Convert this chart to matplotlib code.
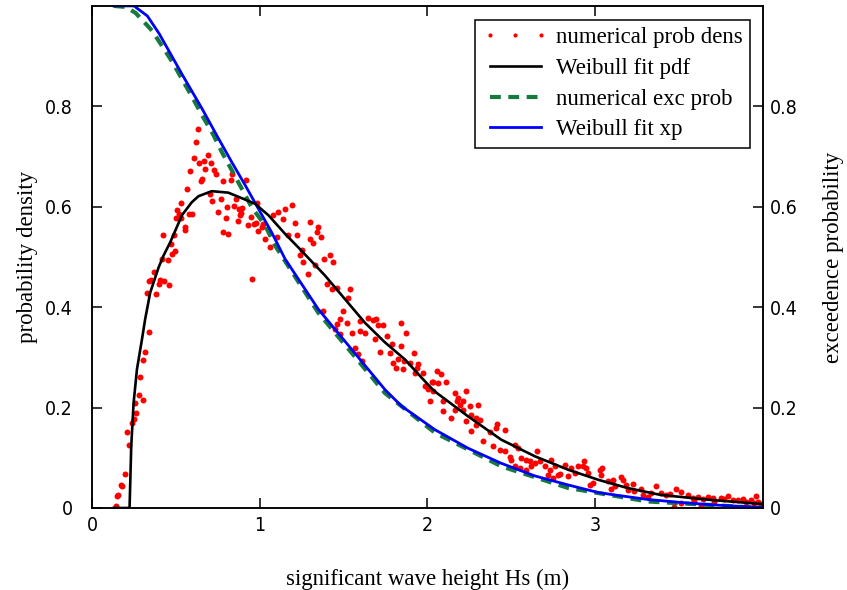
"""
Weibull fit of significant wave height: probability density and exceedance probability.
"""

import matplotlib
matplotlib.use("Agg")
import matplotlib.pyplot as plt
from matplotlib.lines import Line2D

# ─── Data ─────────────────────────────────────────────────────────────────────
# numerical probability density (red dots)
dens_x = [0.139, 0.143, 0.149, 0.155, 0.175, 0.18, 0.195, 0.218, 0.208, 0.238, 0.248, 0.264, 0.254,
          0.307, 0.278, 0.288, 0.302, 0.314, 0.337, 0.327, 0.381, 0.341, 0.353, 0.367, 0.397, 0.407,
          0.432, 0.46, 0.417, 0.452, 0.476, 0.496, 0.472,
          0.631, 0.621, 0.611, 0.69, 0.665, 0.639, 0.71, 0.675, 0.585, 0.726, 0.74, 0.655, 0.65, 0.78,
          0.827, 0.833, 0.917, 0.565, 0.704, 0.714, 0.77, 0.859, 0.53, 0.506, 0.516, 0.5, 0.581, 0.595,
          0.532, 0.754, 0.804, 0.849, 0.877, 0.897, 0.889, 0.883, 0.798, 0.948, 0.873, 0.933, 0.978,
          0.992, 0.556, 0.552, 0.784, 0.813, 0.486, 0.423, 1.022, 1.012,
          0.982, 0.968, 1.032, 1.061, 1.101, 1.081, 1.111, 1.151, 1.19, 1.141, 1.21, 1.30, 1.349, 1.34,
          1.365, 1.171, 1.22, 1.30, 1.32, 1.25, 1.24, 1.26, 1.33, 1.385, 1.419, 1.438, 1.29, 1.399,
          1.429, 1.458, 1.538, 1.528, 0.952, 1.498, 1.478, 1.458, 1.518, 1.448, 1.375, 1.478, 1.548,
          1.597, 1.627, 1.597, 1.647, 1.677, 1.696, 1.706, 1.736, 1.756, 1.686, 1.786, 1.716, 1.776,
          1.845, 1.841, 1.869, 1.567, 1.583, 1.607, 1.921, 1.796, 1.815, 1.825, 1.855, 1.895, 1.945,
          1.935, 1.974, 2.024, 1.984, 1.863, 1.923,
          2.054, 2.08, 2.034, 2.063, 2.113, 2.004, 2.034, 2.014, 2.093, 2.163, 2.232, 2.183, 2.173,
          2.212, 2.193, 2.252, 2.302, 2.093, 2.163, 2.212, 2.262, 2.143, 2.232, 2.292, 2.312, 2.292,
          2.262, 2.371, 2.417, 2.411, 2.46, 2.331, 2.391, 2.431, 2.46, 2.52, 2.54, 2.49, 2.5, 2.56,
          2.59, 2.609, 2.655, 2.639, 2.669, 2.52, 2.55, 2.589, 2.619, 2.698, 2.728, 2.738, 2.758,
          2.778, 2.79, 2.817, 2.857, 2.837, 2.877, 2.897, 2.936, 2.946, 2.966, 2.986, 3.026, 2.718,
          2.748,
          2.927, 2.956, 3.04, 3.036, 3.075, 3.105, 3.115, 3.095, 3.155, 3.165, 3.185, 3.224, 3.194,
          3.234, 3.274, 3.284, 3.313, 3.363, 3.393, 3.443, 3.482, 3.512, 3.552, 3.472, 3.512, 3.611,
          3.671, 3.75, 3.79, 3.85, 3.929, 3.958, 3.948, 3.71, 3.63, 3.59, 3.99,
          3.33, 3.42, 3.58, 3.64, 3.70, 3.77, 3.82, 3.88, 3.90, 3.97]
dens_y = [0.0, 0.004, 0.024, 0.025, 0.045, 0.043, 0.067, 0.126, 0.151, 0.17, 0.178, 0.189, 0.21,
          0.216, 0.225, 0.261, 0.294, 0.311, 0.351, 0.429, 0.426, 0.453, 0.455, 0.471, 0.447, 0.455,
          0.453, 0.444, 0.496, 0.494, 0.506, 0.511, 0.526,
          0.755, 0.728, 0.697, 0.704, 0.691, 0.688, 0.688, 0.676, 0.671, 0.674, 0.665, 0.655, 0.651,
          0.651, 0.653, 0.665, 0.653, 0.635, 0.626, 0.611, 0.615, 0.616, 0.607, 0.593, 0.586, 0.577,
          0.586, 0.586, 0.577, 0.589, 0.599, 0.601, 0.595, 0.597, 0.588, 0.584, 0.578, 0.579, 0.571,
          0.564, 0.567, 0.551, 0.559, 0.553, 0.549, 0.546, 0.543, 0.544, 0.566, 0.559,
          0.608, 0.566, 0.536, 0.519, 0.539, 0.583, 0.589, 0.596, 0.603, 0.576, 0.568, 0.569, 0.559,
          0.549, 0.539, 0.543, 0.543, 0.536, 0.528, 0.513, 0.503, 0.489, 0.483, 0.495, 0.503, 0.489,
          0.466, 0.446, 0.436, 0.439, 0.436, 0.419, 0.456, 0.393, 0.376, 0.366, 0.368, 0.356, 0.393,
          0.346, 0.348, 0.353, 0.349, 0.373, 0.379, 0.375, 0.376, 0.364, 0.364, 0.343, 0.336, 0.326,
          0.311, 0.309, 0.323, 0.369, 0.348, 0.319, 0.306, 0.293, 0.309, 0.289, 0.279, 0.296, 0.276,
          0.289, 0.286, 0.279, 0.269, 0.251, 0.243, 0.292, 0.269,
          0.273, 0.266, 0.251, 0.249, 0.251, 0.237, 0.233, 0.213, 0.213, 0.229, 0.233, 0.219, 0.213,
          0.213, 0.206, 0.203, 0.205, 0.193, 0.196, 0.196, 0.186, 0.179, 0.173, 0.179, 0.176, 0.166,
          0.153, 0.151, 0.168, 0.159, 0.156, 0.133, 0.123, 0.116, 0.113, 0.126, 0.119, 0.101, 0.095,
          0.099, 0.096, 0.093, 0.113, 0.089, 0.093, 0.083, 0.079, 0.076, 0.083, 0.083, 0.076, 0.096,
          0.083, 0.066, 0.068, 0.086, 0.079, 0.063, 0.069, 0.083, 0.093, 0.079, 0.046, 0.049, 0.076,
          0.066, 0.059,
          0.083, 0.069, 0.079, 0.066, 0.053, 0.056, 0.043, 0.037, 0.061, 0.055, 0.046, 0.048, 0.036,
          0.033, 0.037, 0.026, 0.021, 0.043, 0.029, 0.028, 0.037, 0.031, 0.026, 0.001, 0.009, 0.021,
          0.021, 0.019, 0.023, 0.016, 0.015, 0.023, 0.009, 0.011, 0.003, 0.013, 0.008,
          0.030, 0.025, 0.020, 0.018, 0.020, 0.017, 0.015, 0.018, 0.012, 0.012]

# Weibull fit pdf (black)
pdf_x = [0.13, 0.224, 0.234, 0.248, 0.268, 0.298, 0.317, 0.347, 0.397, 0.427, 0.466, 0.50, 0.536,
         0.595, 0.635, 0.714, 0.813, 0.893, 0.972, 1.052, 1.151, 1.23, 1.389, 1.508, 1.627, 1.746,
         1.865, 1.994, 2.04, 2.24, 2.44, 2.64, 2.84, 3.02, 3.19, 3.39, 3.69, 3.99]
pdf_y = [0.0, 0.0, 0.123, 0.209, 0.276, 0.336, 0.376, 0.429, 0.479, 0.503, 0.529, 0.555, 0.583,
         0.609, 0.621, 0.631, 0.628, 0.617, 0.606, 0.583, 0.546, 0.519, 0.463, 0.416, 0.369, 0.330,
         0.296, 0.249, 0.233, 0.183, 0.136, 0.103, 0.076, 0.056, 0.04, 0.026, 0.016, 0.008]

# numerical exceedance probability (green dashed)
exc_x = [0.13, 0.20, 0.26, 0.36, 0.476, 0.595, 0.655, 0.724, 0.774, 0.833, 0.893, 0.952, 1.032,
         1.091, 1.349, 1.548, 1.746, 2.044, 2.44, 2.837, 3.313, 4.0]
exc_y = [1.0, 0.998, 0.986, 0.95, 0.89, 0.82, 0.783, 0.743, 0.709, 0.673, 0.636, 0.599, 0.563,
         0.523, 0.389, 0.309, 0.229, 0.150, 0.083, 0.040, 0.013, 0.0]

# Weibull fit exceedance probability (blue)
xp_x = [0.13, 0.25, 0.33, 0.40, 0.54, 0.655, 0.754, 0.833, 0.913, 0.992, 1.071, 1.151, 1.349,
        1.548, 1.746, 1.845, 2.044, 2.242, 2.44, 2.639, 2.837, 3.016, 3.115, 3.313, 3.512, 3.71, 4.0]
xp_y = [1.0, 1.0, 0.98, 0.945, 0.862, 0.796, 0.736, 0.689, 0.643, 0.596, 0.549, 0.496, 0.396,
        0.316, 0.236, 0.203, 0.156, 0.119, 0.089, 0.064, 0.046, 0.031, 0.026, 0.017, 0.011, 0.006,
        0.001]

yticks = [0, 0.2, 0.4, 0.6, 0.8]
ytick_labels = ["0", "0.2", "0.4", "0.6", "0.8"]
xticks = [0, 1, 2, 3]

SERIF = ["Liberation Serif", "DejaVu Serif"]
GREEN = "#157a3c"
TICK_FONT = dict(family="DejaVu Sans", stretch="condensed", size=14)

# ─── Figure ───────────────────────────────────────────────────────────────────
fig = plt.figure(figsize=(8.47, 5.90), dpi=100)
ax = fig.add_axes([0.1086, 0.139, 0.7922, 0.851])
ax2 = ax.twinx()

ax.plot(dens_x, dens_y, "o", color="red", markersize=4.3, markeredgewidth=0, zorder=2)
ax.plot(exc_x, exc_y, color=GREEN, linewidth=3.0, dashes=(2.6, 1.8), zorder=3)
ax.plot(xp_x, xp_y, color="blue", linewidth=2.0, zorder=4)
ax.plot(pdf_x, pdf_y, color="black", linewidth=1.9, zorder=5)

for a in (ax, ax2):
    a.set_xlim(0, 4)
    a.set_ylim(0, 1)
    a.set_yticks(yticks)
    a.set_yticklabels(ytick_labels, fontdict=TICK_FONT)
    for s in a.spines.values():
        s.set_linewidth(1.1)

ax.set_xticks(xticks)
ax.set_xticklabels([str(t) for t in xticks], fontdict=TICK_FONT)
ax.tick_params(axis="both", direction="in", length=7, width=1.1, top=True)
ax.tick_params(axis="y", pad=14)
ax.tick_params(axis="x", pad=6)
ax2.tick_params(axis="y", direction="in", length=7, width=1.1, pad=5)

ax.set_xlabel("significant wave height Hs (m)", family=SERIF, fontsize=16.5)
ax.set_ylabel("probability density", family=SERIF, fontsize=16.5)
ax2.set_ylabel("exceedence probability", family=SERIF, fontsize=16.5)
ax.xaxis.set_label_coords(0.5, -0.121)
ax.yaxis.set_label_coords(-0.080, 0.5)
ax2.yaxis.set_label_coords(1.089, 0.5)

# ─── Legend ───────────────────────────────────────────────────────────────────
handles = [
    Line2D([], [], linestyle="None", marker="o", color="red", markersize=3, markeredgewidth=0),
    Line2D([], [], color="black", linewidth=1.9),
    Line2D([], [], color=GREEN, linewidth=3.0, dashes=(2.6, 1.8)),
    Line2D([], [], color="blue", linewidth=2.0),
]
labels = ["numerical prob dens", "Weibull fit pdf", "numerical exc prob", "Weibull fit xp"]
leg = ax2.legend(handles, labels, loc="upper right", bbox_to_anchor=(0.981, 0.972),
                 borderaxespad=0, numpoints=3, handlelength=2.85, handletextpad=0.35,
                 fancybox=False, framealpha=1, edgecolor="black",
                 prop={"family": SERIF, "size": 16.5}, labelspacing=0.42, borderpad=0.32)
leg.get_frame().set_linewidth(1.1)

fig.savefig("out.png", dpi=100)
